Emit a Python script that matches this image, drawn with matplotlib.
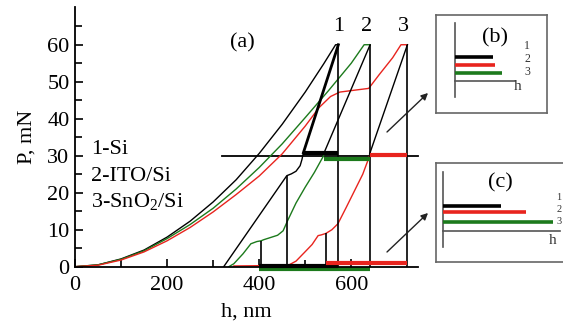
import matplotlib
matplotlib.use('Agg')
import matplotlib.pyplot as plt

plt.rcParams['font.family'] = ['Liberation Serif', 'DejaVu Serif']
plt.rcParams['mathtext.fontset'] = 'custom'
plt.rcParams['mathtext.rm'] = 'Liberation Serif'

####################################
# Data
####################################

# loading curves, h in nm, P in mN
h_load_1 = [0, 50, 100, 150, 200, 250, 300, 350, 400, 450, 500, 540, 566, 572]
p_load_1 = [0, 0.5, 2.1, 4.5, 8.0, 12.3, 17.5, 23.5, 30.6, 38.5, 47.2, 54.8, 60, 60]

h_load_2 = [0, 50, 100, 150, 200, 250, 300, 350, 400, 450, 500, 550, 600, 628, 641]
p_load_2 = [0, 0.5, 2.0, 4.3, 7.6, 11.4, 15.8, 21.0, 26.8, 33.2, 40.3, 47.5, 55.0, 60, 60]

h_load_3 = [0, 50, 100, 150, 200, 250, 300, 350, 400, 450, 500, 530, 555, 575, 600, 638, 660, 690, 708, 722]
p_load_3 = [0, 0.4, 1.8, 4.0, 7.0, 10.6, 14.8, 19.5, 24.5, 30.5, 38.0, 43.0, 46.0, 47.2, 47.6, 48.2, 51.8, 56.5, 60, 60]

# upper (black) unloading branches, peak -> 30 mN line
h_top_1 = [572, 496]
p_top_1 = [60, 30.8]
h_top_2 = [641, 540]
p_top_2 = [60, 30.5]
h_top_3 = [722, 640]
p_top_3 = [60, 30.5]

# lower unloading branches
h_unl_1 = [496, 493, 489, 480, 470, 460, 323]
p_unl_1 = [30.8, 29.0, 27.3, 25.8, 25.1, 24.6, 0]

h_unl_2 = [540, 520, 500, 480, 462, 452, 440, 425, 410, 404, 395, 382, 365, 345, 334]
p_unl_2 = [30.0, 25.5, 21.5, 17.2, 12.5, 9.7, 8.5, 7.9, 7.3, 7.0, 6.8, 6.2, 3.5, 0.8, 0]

h_unl_3 = [640, 625, 607, 589, 571, 558, 545, 535, 528, 515, 498, 480, 465, 420, 345]
p_unl_3 = [30.0, 25.0, 20.5, 16.0, 11.6, 10.0, 9.0, 8.6, 8.4, 6.0, 3.8, 1.5, 0.5, 0.3, 0.2]

# vertical marker lines: h and top load
vert_h = [404, 460, 545, 572, 641, 722]
vert_p = [7.0, 24.6, 9.0, 60, 60, 60]

# residual depth bars: (start, end, level) for 1, 2, 3
bar30_start = [496, 540, 641]
bar30_end = [572, 641, 722]
bar30_level = [30.6, 29.2, 30.3]
bar0_start = [400, 400, 545]
bar0_end = [572, 641, 722]
bar0_level = [0.3, -0.7, 1.0]

legend_labels = ['1-Si', '2-ITO/Si', '3-SnO$_2$/Si']
peak_labels = ['1', '2', '3']
peak_label_h = [572, 633, 713]

# inset bar lengths (schematic), order 1, 2, 3
inset_b_len = [38, 40, 47]
inset_c_len = [58, 83, 110]

colours = ['black', '#e8241e', '#1c7a1c']

####################################
# Main plot
####################################

fig = plt.figure(figsize=(5.63, 3.25), dpi=100)
ax = fig.add_axes([75/563, 58.3/325, 343/563, 259.7/325])

ax.set_xlim(0, 745)
ax.set_ylim(0, 70.2)
for s in ['top', 'right']:
    ax.spines[s].set_visible(False)
for s in ['left', 'bottom']:
    ax.spines[s].set_linewidth(1.3)

ax.set_xticks([0, 200, 400, 600])
ax.set_xticks([100, 300, 500], minor=True)
ax.set_yticks(range(0, 61, 10))
ax.set_yticks(range(5, 70, 10), minor=True)
ax.tick_params(which='both', direction='in', labelsize=16, width=1.2)
ax.tick_params(which='major', length=6)
ax.tick_params(which='minor', length=5)
ax.tick_params(axis='x', pad=7)
ax.tick_params(axis='y', pad=4)

ax.set_xlabel('h, nm', fontsize=16, labelpad=5)
ax.set_ylabel('P, mN', fontsize=16, labelpad=8)

# 30 mN reference line
ax.plot([320, 745], [30, 30], color='black', lw=1.3, clip_on=False)

lw = 1.0
ax.plot(h_load_1, p_load_1, color=colours[0], lw=lw)
ax.plot(h_load_2, p_load_2, color=colours[2], lw=lw)
ax.plot(h_load_3, p_load_3, color=colours[1], lw=lw)

ax.plot(h_top_1, p_top_1, color='black', lw=2.0)
ax.plot(h_top_2, p_top_2, color='black', lw=lw)
ax.plot(h_top_3, p_top_3, color='black', lw=lw)

ax.plot(h_unl_1, p_unl_1, color=colours[0], lw=lw)
ax.plot(h_unl_2, p_unl_2, color=colours[2], lw=lw)
ax.plot(h_unl_3, p_unl_3, color=colours[1], lw=lw)

ax.vlines(vert_h, 0, vert_p, color='black', lw=1.2)

bar_cols = [colours[0], colours[2], colours[1]]
for i in range(3):
    ax.plot([bar30_start[i], bar30_end[i]], [bar30_level[i]] * 2, color=bar_cols[i], lw=3, solid_capstyle='butt')
for i in [1, 0, 2]:
    ax.plot([bar0_start[i], bar0_end[i]], [bar0_level[i]] * 2, color=bar_cols[i], lw=3,
            solid_capstyle='butt', clip_on=False)

for i, lab in enumerate(legend_labels):
    ax.text(35, [30.5, 23.2, 16.1][i], lab, fontsize=16, va='baseline', ha='left')

for i, lab in enumerate(peak_labels):
    ax.text(peak_label_h[i], 64.8, lab, fontsize=16, ha='center', va='center')

ax.text(363, 60.4, '(a)', fontsize=16, ha='center', va='center')

####################################
# Insets
####################################

frame_col = '#666666'
line_col = '#555555'


def make_inset(rect, w, h):
    iax = fig.add_axes(rect)
    iax.set_xlim(0, w)
    iax.set_ylim(0, h)
    iax.set_xticks([])
    iax.set_yticks([])
    for s in iax.spines.values():
        s.set_color(frame_col)
        s.set_linewidth(1.2)
    return iax


# (b)
bx = make_inset([436/563, 212/325, 111/563, 98/325], 111, 98)
bx.plot([19, 19], [16, 90], color=line_col, lw=1.2)
bx.plot([19, 79], [32, 32], color=line_col, lw=1.2)
for i, y in enumerate([56, 48, 40]):
    bx.plot([19, 19 + inset_b_len[i]], [y, y], color=[colours[0], colours[1], colours[2]][i], lw=2.6,
            solid_capstyle='butt')
bx.text(59, 75, '(b)', fontsize=16, ha='center', va='center')
bx.text(82, 27, 'h', fontsize=11, ha='center', va='center', color='#333333')
for i, y in enumerate([67, 54, 41]):
    bx.text(91, y, str(i + 1), fontsize=8.5, ha='center', va='center', color='#333333')

# (c)
cx = make_inset([436/563, 63/325, 139/563, 99/325], 139, 99)
cx.plot([7, 7], [15, 90], color=line_col, lw=1.2)
cx.plot([7, 124], [31, 31], color=line_col, lw=1.2)
for i, y in enumerate([56, 50, 40]):
    cx.plot([7, 7 + inset_c_len[i]], [y, y], color=[colours[0], colours[1], colours[2]][i], lw=2.6,
            solid_capstyle='butt')
cx.text(64, 79, '(c)', fontsize=16, ha='center', va='center')
cx.text(117, 22, 'h', fontsize=11, ha='center', va='center', color='#333333')
for i, y in enumerate([64, 52, 40]):
    cx.text(123, y, str(i + 1), fontsize=7.5, ha='center', va='center', color='#333333')

# arrows pointing to the insets
arrow = dict(arrowstyle='-|>', lw=1.0, color='#222222', mutation_scale=10, shrinkA=0, shrinkB=0)
ax.annotate('', xy=(428, 232), xytext=(387, 193), xycoords='figure pixels', textcoords='figure pixels',
            arrowprops=arrow)
ax.annotate('', xy=(428, 112), xytext=(387, 73), xycoords='figure pixels', textcoords='figure pixels',
            arrowprops=arrow)

fig.savefig('out.png', dpi=100)
